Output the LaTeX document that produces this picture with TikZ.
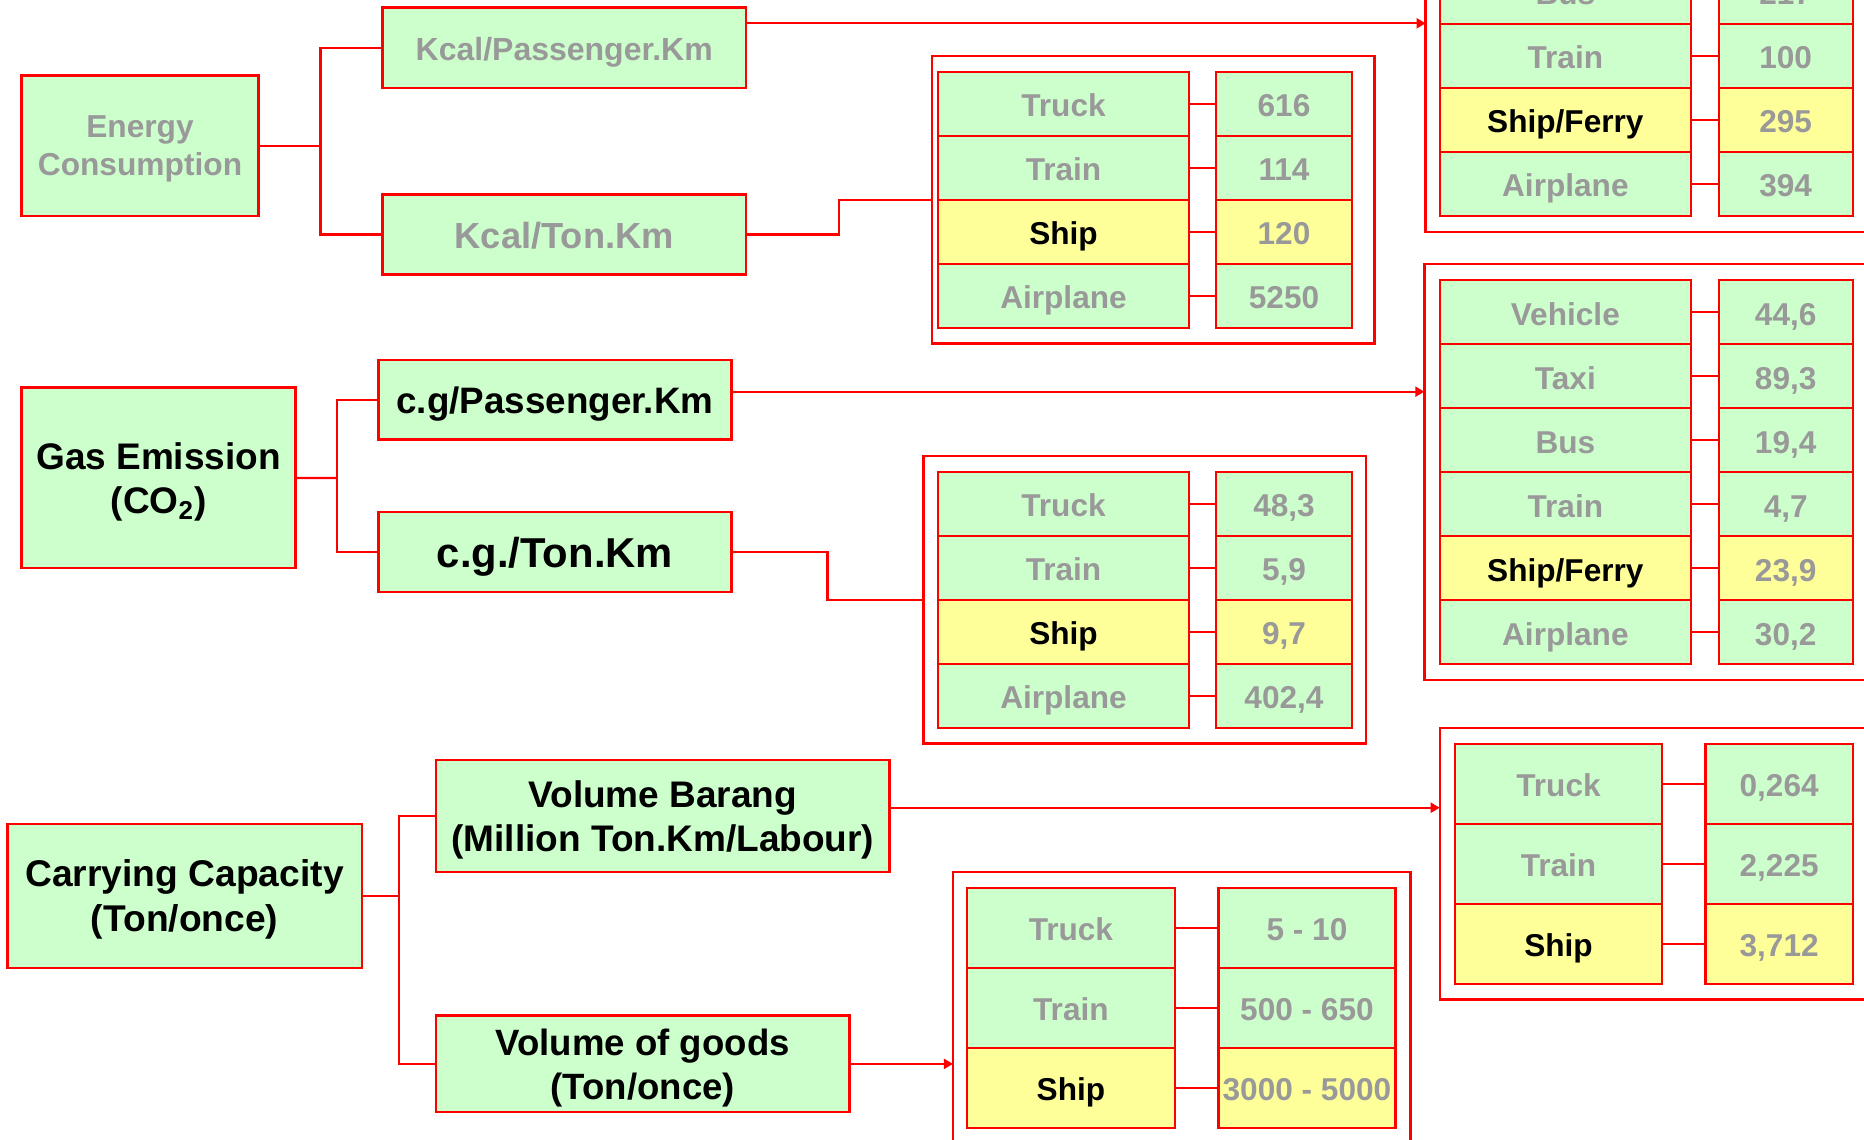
\documentclass[tikz,border=0pt]{standalone}
\usepackage{fontspec}
\setmainfont{Liberation Sans}
\usetikzlibrary{arrows.meta,calc}
\definecolor{cg}{HTML}{CCFFCC}
\definecolor{cy}{HTML}{FFFF99}
\definecolor{tg}{HTML}{999999}
\definecolor{rd}{HTML}{FF0000}
\tikzset{
 box/.style={draw=rd, fill=cg, line width=1.3pt, inner sep=0pt, outer sep=0pt, align=center},
 twoline/.style={text depth=-1.2pt},
 grp/.style={draw=rd, line width=1.2pt, inner sep=0pt, outer sep=0pt},
 cell/.style={draw=rd, line width=1.2pt, inner sep=0pt, outer sep=0pt,
   font=\fontsize{15.8pt}{19pt}\selectfont\bfseries, text height=13pt, text depth=0pt},
 link/.style={draw=rd, line width=1.1pt},
 arr/.style={link, -{Triangle[length=4.5pt,width=5pt]}},
}
\newcommand\settab[6]{\def\tLa{#1}\def\tLb{#2}\def\tRa{#3}\def\tRb{#4}\def\tTop{#5}\def\tH{#6}}
\newcommand\trow[6]{%
 \pgfmathsetmacro\tyc{\tTop+(#2-0.5)*\tH}%
 \pgfmathsetmacro\tlx{(\tLa+\tLb)/2}%
 \pgfmathsetmacro\trx{(\tRa+\tRb)/2}%
 \pgfmathsetmacro\tlw{(\tLb-\tLa)*0.5}%
 \pgfmathsetmacro\trw{(\tRb-\tRa)*0.5}%
 \pgfmathsetmacro\tch{\tH*0.5}%
 \node[cell, fill=#5, text=#6, minimum width=\tlw pt, minimum height=\tch pt] (#1L#2) at (\tlx,\tyc) {#3};
 \node[cell, fill=#5, text=tg, minimum width=\trw pt, minimum height=\tch pt] (#1R#2) at (\trx,\tyc) {#4};
 \draw[link] (#1L#2.east) -- (#1R#2.west);
}
\begin{document}
\begin{tikzpicture}[x=0.5pt,y=-0.5pt]
\useasboundingbox (0,0) rectangle (1864,1140);
\clip (0,0) rectangle (1864,1140);
\fill[white] (0,0) rectangle (1864,1140);

% left-hand boxes
\node[box, twoline, minimum width=118.4pt, minimum height=70.15pt, text=tg,
  font=\fontsize{15.85pt}{19.2pt}\selectfont\bfseries] (E) at (140,145.8) {Energy\\Consumption};
\node[box, minimum width=181.65pt, minimum height=40.15pt, text=tg,
  font=\fontsize{16pt}{19pt}\selectfont\bfseries, text height=12.5pt, text depth=0pt] (KP) at (564.2,47.9) {Kcal/Passenger.Km};
\node[box, minimum width=181.65pt, minimum height=40.2pt, text=tg,
  font=\fontsize{18.15pt}{21pt}\selectfont\bfseries, text height=14pt, text depth=0pt] (KT) at (564.2,234.5) {Kcal/Ton.Km};

\node[box, twoline, minimum width=137pt, minimum height=90.15pt,
  font=\fontsize{18.5pt}{22pt}\selectfont\bfseries] (G) at (158.6,477.9) {Gas Emission\\(CO\textsubscript{2})};
\node[box, minimum width=176.55pt, minimum height=39.85pt,
  font=\fontsize{18.4pt}{21pt}\selectfont\bfseries, text height=13.4pt, text depth=0pt] (CP) at (554.9,399.9) {c.g/Passenger.Km};
\node[box, minimum width=176.55pt, minimum height=40pt,
  font=\fontsize{20.9pt}{24pt}\selectfont\bfseries, text height=15.4pt, text depth=0pt] (CT) at (554.9,552) {c.g./Ton.Km};

\node[box, twoline, minimum width=177.4pt, minimum height=72pt,
  font=\fontsize{18.6pt}{22.5pt}\selectfont\bfseries] (C) at (184.6,896) {Carrying Capacity\\(Ton/once)};
\node[box, twoline, minimum width=226.9pt, minimum height=56pt,
  font=\fontsize{18.5pt}{21.9pt}\selectfont\bfseries] (VB) at (662.8,816) {Volume Barang\\(Million Ton.Km/Labour)};
\node[box, twoline, minimum width=206.8pt, minimum height=48.15pt,
  font=\fontsize{18.3pt}{21.9pt}\selectfont\bfseries] (VG) at (642.7,1063.9) {Volume of goods\\(Ton/once)};

% group frames
\node[grp, minimum width=221.3pt, minimum height=143.75pt] (GET) at (1153.3,199.75) {};
\node[grp, minimum width=237.2pt, minimum height=207.85pt] (GEP) at (1662.8,23.85) {};
\node[grp, minimum width=237.85pt, minimum height=208pt] (GGP) at (1662.15,472) {};
\node[grp, minimum width=221.3pt, minimum height=143.65pt] (GGT) at (1144.7,599.65) {};
\node[grp, minimum width=230.15pt, minimum height=135.65pt] (GCL) at (1669.85,863.65) {};
\node[grp, minimum width=228.7pt, minimum height=149pt] (GCV) at (1181.6,1021) {};

% tables
\settab{938}{1189}{1216}{1352}{71.7}{64}
\trow{et}{1}{Truck}{616}{cg}{tg}
\trow{et}{2}{Train}{114}{cg}{tg}
\trow{et}{3}{Ship}{120}{cy}{black}
\trow{et}{4}{Airplane}{5250}{cg}{tg}

\settab{1439.7}{1691}{1718.7}{1852.7}{-40.3}{64}
\trow{ep}{1}{Bus}{217}{cg}{tg}
\trow{ep}{2}{Train}{100}{cg}{tg}
\trow{ep}{3}{Ship/Ferry}{295}{cy}{black}
\trow{ep}{4}{Airplane}{394}{cg}{tg}

\settab{1439.7}{1691}{1718.7}{1852.7}{280}{64}
\trow{gp}{1}{Vehicle}{44,6}{cg}{tg}
\trow{gp}{2}{Taxi}{89,3}{cg}{tg}
\trow{gp}{3}{Bus}{19,4}{cg}{tg}
\trow{gp}{4}{Train}{4,7}{cg}{tg}
\trow{gp}{5}{Ship/Ferry}{23,9}{cy}{black}
\trow{gp}{6}{Airplane}{30,2}{cg}{tg}

\settab{938}{1189}{1216}{1352}{471.7}{64}
\trow{gt}{1}{Truck}{48,3}{cg}{tg}
\trow{gt}{2}{Train}{5,9}{cg}{tg}
\trow{gt}{3}{Ship}{9,7}{cy}{black}
\trow{gt}{4}{Airplane}{402,4}{cg}{tg}

\settab{1455}{1662}{1705.4}{1852.8}{743.7}{80}
\trow{cl}{1}{Truck}{0,264}{cg}{tg}
\trow{cl}{2}{Train}{2,225}{cg}{tg}
\trow{cl}{3}{Ship}{3,712}{cy}{black}

\settab{967}{1174.8}{1218.4}{1395.5}{887.7}{80}
\trow{cv}{1}{Truck}{5 - 10}{cg}{tg}
\trow{cv}{2}{Train}{500 - 650}{cg}{tg}
\trow{cv}{3}{Ship}{3000 - 5000}{cy}{black}

% connectors: energy
\draw[link] (E.east) -- ($(E.east)!0.5!(E.east -| KP.west)$) coordinate (jE);
\draw[link] (KP.west) -| (jE) |- (KT.west);
\draw[arr] ([yshift=12.3pt]KP.east) coordinate (kpo) -- (kpo -| GEP.west);
\draw[link] (KT.east) -- ($(KT.east)!0.5!(KT.east -| GET.west)$) |- (GET.west);

% connectors: gas
\draw[link] (G.east) -- ($(G.east)!0.5!(G.east -| CP.west)$) coordinate (jG);
\draw[link] (CP.west) -| (jG) |- (CT.west);
\draw[arr] ([yshift=4.1pt]CP.east) coordinate (cpo) -- (cpo -| GGP.west);
\draw[link] (CT.east) -- ($(CT.east)!0.5!(CT.east -| GGT.west)$) |- (GGT.west);

% connectors: carrying
\draw[link] (C.east) -- ($(C.east)!0.5!(C.east -| VB.west)$) coordinate (jC);
\draw[link] (VB.west) -| (jC) |- (VG.west);
\draw[arr] ([yshift=4.15pt]VB.east) coordinate (vbo) -- (vbo -| GCL.west);
\draw[arr] (VG.east) -- (VG.east -| GCV.west);
\end{tikzpicture}
\end{document}
